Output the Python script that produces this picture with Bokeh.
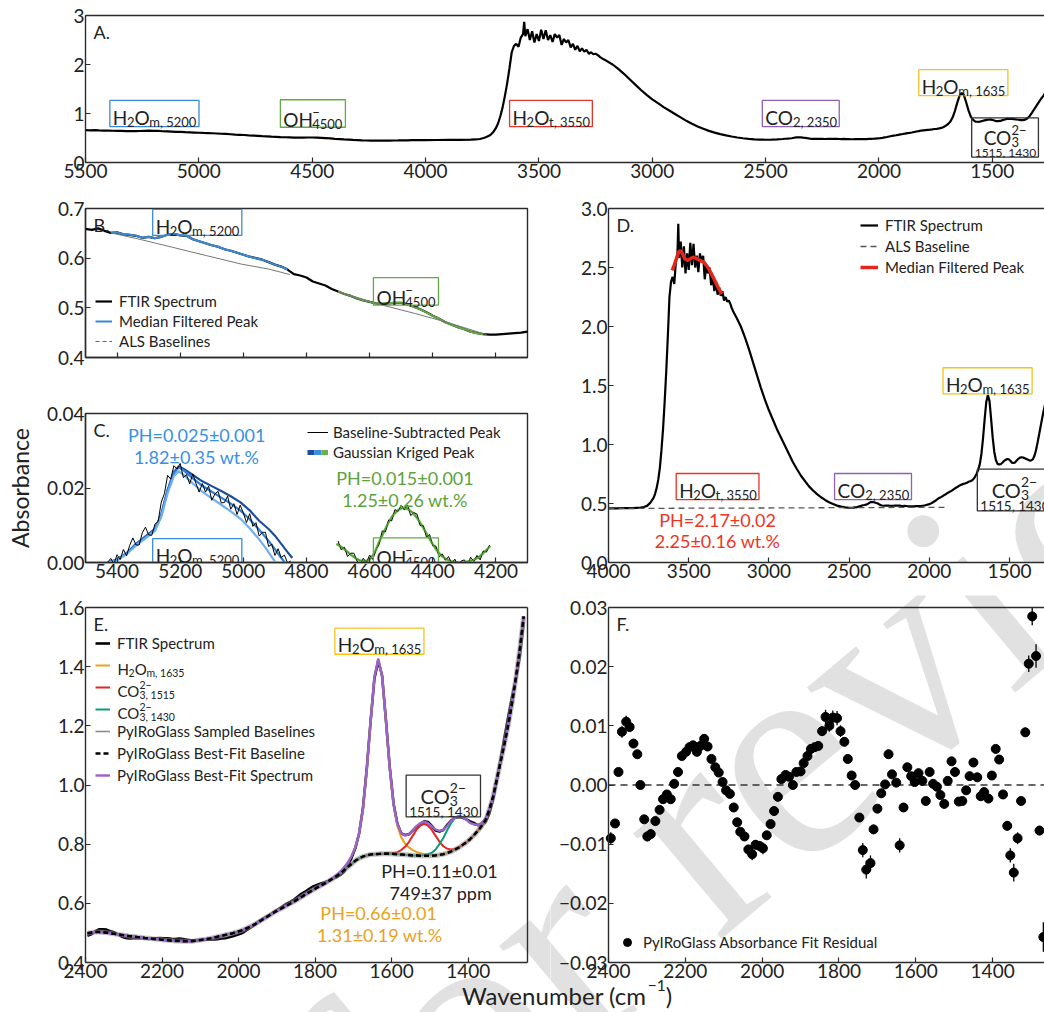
import numpy as np
from bokeh.plotting import figure
from bokeh.layouts import column, row
from bokeh.models import (Range1d, FixedTicker, Label, Legend, LegendItem, LinearAxis)
from bokeh.embed import file_html
from bokeh.resources import INLINE

FONT = "Lato"
INK = "#222222"
AX = "#2b2b2b"
NAN2 = [np.nan, np.nan]

# ---------------- FTIR spectrum (absorbance vs wavenumber, cm-1) ----------------
wn_nir = np.arange(5500, 4099, -20)
abs_nir = [
    0.659, 0.657, 0.660, 0.655, 0.651, 0.652, 0.648, 0.647, 0.645, 0.641,
    0.643, 0.640, 0.643, 0.647, 0.649, 0.646, 0.645, 0.638, 0.634, 0.630,
    0.626, 0.623, 0.618, 0.615, 0.611, 0.607, 0.603, 0.600, 0.597, 0.592,
    0.587, 0.583, 0.577, 0.568, 0.565, 0.561, 0.553, 0.549, 0.545, 0.538,
    0.533, 0.528, 0.524, 0.519, 0.515, 0.512, 0.509, 0.508, 0.509, 0.510,
    0.510, 0.507, 0.502, 0.497, 0.491, 0.484, 0.478, 0.471, 0.466, 0.461,
    0.457, 0.452, 0.449, 0.447, 0.446, 0.446, 0.447, 0.448, 0.449, 0.450,
    0.452,
]
wn_rise = [4080, 4060, 4040, 4020, 4000, 3950, 3900, 3850, 3800, 3780, 3760, 3740,
           3720, 3710, 3700, 3690, 3680, 3670, 3660, 3650, 3640, 3630, 3620]
abs_rise = [0.453, 0.455, 0.456, 0.457, 0.458, 0.459, 0.460, 0.461, 0.465, 0.470, 0.480, 0.505,
            0.545, 0.580, 0.630, 0.700, 0.800, 0.950, 1.130, 1.360, 1.620, 1.920, 2.250]
wn_oh = [3610, 3600, 3590, 3580, 3570, 3565, 3560, 3550, 3540, 3530,
         3520, 3510, 3500, 3490, 3480, 3470, 3460, 3450, 3440, 3430,
         3420, 3410, 3400, 3390, 3380, 3370, 3360, 3350, 3340, 3330,
         3320, 3310, 3300, 3290, 3280, 3270, 3260, 3250, 3240, 3230, 3220]
abs_oh = [2.38, 2.42, 2.36, 2.55, 2.62, 2.87, 2.58, 2.72, 2.50, 2.68,
          2.45, 2.62, 2.48, 2.71, 2.52, 2.70, 2.50, 2.60, 2.46, 2.62,
          2.55, 2.60, 2.40, 2.52, 2.45, 2.50, 2.35, 2.42, 2.30, 2.38,
          2.27, 2.33, 2.26, 2.30, 2.22, 2.25, 2.21, 2.22, 2.19, 2.15, 2.12]
wn_mid = [3200, 3175, 3150, 3125, 3100, 3075, 3050, 3025, 3000, 2975,
          2950, 2925, 2900, 2875, 2850, 2825, 2800, 2775, 2750, 2725,
          2700, 2675, 2650, 2625, 2600, 2575, 2550, 2525, 2500, 2475,
          2450, 2425, 2415]
abs_mid = [2.07, 2.00, 1.91, 1.81, 1.70, 1.59, 1.48, 1.38, 1.29, 1.21,
           1.13, 1.06, 0.99, 0.92, 0.85, 0.79, 0.735, 0.69, 0.645, 0.61,
           0.58, 0.553, 0.53, 0.51, 0.495, 0.482, 0.473, 0.467, 0.464, 0.465,
           0.470, 0.480, 0.485]
wn_mir = np.arange(2405, 1234, -10)
abs_mir = [
    0.487, 0.490, 0.495, 0.505, 0.512, 0.512, 0.511, 0.506, 0.502, 0.495,
    0.487, 0.483, 0.481, 0.482, 0.482, 0.483, 0.481, 0.480, 0.481, 0.482,
    0.483, 0.482, 0.482, 0.480, 0.479, 0.481, 0.479, 0.477, 0.475, 0.475,
    0.476, 0.476, 0.478, 0.477, 0.478, 0.479, 0.481, 0.482, 0.485, 0.489,
    0.493, 0.497, 0.504, 0.513, 0.521, 0.531, 0.541, 0.549, 0.556, 0.564,
    0.573, 0.581, 0.590, 0.598, 0.605, 0.613, 0.623, 0.633, 0.640, 0.649,
    0.657, 0.662, 0.667, 0.671, 0.676, 0.684, 0.688, 0.695, 0.706, 0.726,
    0.753, 0.786, 0.836, 0.922, 1.055, 1.216, 1.360, 1.420, 1.370, 1.220,
    1.060, 0.937, 0.869, 0.836, 0.831, 0.833, 0.846, 0.859, 0.869, 0.877,
    0.875, 0.862, 0.846, 0.843, 0.848, 0.865, 0.879, 0.889, 0.892, 0.890,
    0.884, 0.877, 0.872, 0.864, 0.865, 0.874, 0.903, 0.951, 1.018, 1.089,
    1.162, 1.233, 1.301, 1.360, 1.436, 1.550, 1.680, 1.820,
]

# ---------------- ALS baselines of the near-IR peaks ----------------
als_5200_wn = [5420, 5335, 5225, 5116, 5006, 4919, 4853]
als_5200 = [0.651, 0.639, 0.622, 0.605, 0.588, 0.578, 0.567]
als_4500_wn = [4700, 4569, 4459, 4350, 4230]
als_4500 = [0.532, 0.507, 0.489, 0.470, 0.446]

# ---------------- baseline-subtracted peaks ----------------
sub_5200_wn = np.arange(5430, 4849, -10)
sub_5200 = [
    0.0000, 0.0011, -0.0004, 0.0021, 0.0008, 0.0035, 0.0018, 0.0046, 0.0066, 0.0047,
    0.0047, 0.0080, 0.0095, 0.0074, 0.0073, 0.0103, 0.0110, 0.0162, 0.0185, 0.0234,
    0.0224, 0.0260, 0.0251, 0.0266, 0.0228, 0.0236, 0.0211, 0.0238, 0.0212, 0.0189,
    0.0212, 0.0189, 0.0205, 0.0167, 0.0184, 0.0191, 0.0160, 0.0161, 0.0178, 0.0143,
    0.0158, 0.0129, 0.0154, 0.0133, 0.0107, 0.0131, 0.0097, 0.0107, 0.0071, 0.0081,
    0.0081, 0.0043, 0.0049, 0.0019, 0.0037, 0.0013, 0.0020, -0.0001, 0.0004,
]
sub_4500_wn = np.arange(4700, 4219, -10)
sub_4500 = [
    0.0058, 0.0034, 0.0041, 0.0016, 0.0025, 0.0025, 0.0004, -0.0005, 0.0011, 0.0000,
    0.0020, 0.0008, 0.0034, 0.0049, 0.0085, 0.0082, 0.0114, 0.0112, 0.0142, 0.0137,
    0.0154, 0.0141, 0.0154, 0.0126, 0.0134, 0.0130, 0.0099, 0.0099, 0.0068, 0.0075,
    0.0045, 0.0044, 0.0015, 0.0023, 0.0006, 0.0016, -0.0003, 0.0009, -0.0010, 0.0004,
    0.0007, -0.0006, 0.0014, 0.0003, 0.0019, 0.0007, 0.0031, 0.0028, 0.0047,
]
# Gaussian-process (kriged) peaks: upper, central and lower estimates
krig_hi_wn = [5430, 5400, 5370, 5340, 5310, 5280, 5260, 5240, 5220, 5205, 5190, 5160,
              5130, 5100, 5070, 5040, 5010, 4980, 4950, 4920, 4900, 4880, 4860, 4845]
krig_hi = [0.0000, 0.0008, 0.0025, 0.0050, 0.0070, 0.0090, 0.0130, 0.0195, 0.0243, 0.0258,
           0.0252, 0.0235, 0.0218, 0.0205, 0.0192, 0.0178, 0.0162, 0.0140, 0.0112, 0.0090,
           0.0072, 0.0050, 0.0028, 0.0012]
krig_mid_wn = [5430, 5400, 5370, 5340, 5310, 5280, 5260, 5240, 5220, 5205, 5190, 5160,
               5130, 5100, 5070, 5040, 5010, 4980, 4950, 4920, 4900, 4880, 4870]
krig_mid = [0.0000, 0.0008, 0.0024, 0.0048, 0.0068, 0.0088, 0.0127, 0.0192, 0.0240, 0.0255,
            0.0248, 0.0226, 0.0206, 0.0190, 0.0174, 0.0158, 0.0140, 0.0116, 0.0088, 0.0058,
            0.0036, 0.0012, 0.0002]
krig_lo_wn = [5430, 5400, 5370, 5340, 5310, 5280, 5260, 5240, 5220, 5205, 5190, 5160,
              5130, 5100, 5070, 5040, 5010, 4980, 4950, 4930, 4910, 4900]
krig_lo = [0.0000, 0.0006, 0.0022, 0.0045, 0.0065, 0.0085, 0.0122, 0.0186, 0.0232, 0.0245,
           0.0236, 0.0212, 0.0190, 0.0172, 0.0155, 0.0137, 0.0118, 0.0092, 0.0062, 0.0040,
           0.0015, 0.0003]
krig_oh_wn = [4705, 4690, 4675, 4660, 4645, 4630, 4615, 4600, 4585, 4570, 4555, 4540,
              4525, 4510, 4495, 4480, 4465, 4450, 4435, 4420, 4405, 4390, 4375, 4360,
              4345, 4330, 4315, 4300, 4285, 4270, 4255, 4240, 4225, 4218]
krig_oh = [0.0050, 0.0042, 0.0032, 0.0021, 0.0012, 0.0005, 0.0003, 0.0008, 0.0025, 0.0055,
           0.0082, 0.0108, 0.0128, 0.0141, 0.0147, 0.0144, 0.0135, 0.0120, 0.0100, 0.0078,
           0.0056, 0.0036, 0.0020, 0.0010, 0.0004, 0.0001, 0.0000, 0.0001, 0.0003, 0.0007,
           0.0014, 0.0025, 0.0038, 0.0045]

# ---------------- mid-IR baseline and median-filtered H2Ot peak ----------------
als_3550_wn = [4000, 3500, 3000, 2500, 1900]
als_3550 = [0.458, 0.460, 0.462, 0.465, 0.468]
med_3550_wn = [3603, 3590, 3575, 3563, 3551, 3540, 3525, 3509, 3490, 3468,
               3450, 3430, 3406, 3380, 3360, 3343, 3320, 3300, 3291]
med_3550 = [2.475, 2.52, 2.58, 2.63, 2.644, 2.62, 2.575, 2.56, 2.575, 2.587,
            2.575, 2.56, 2.545, 2.50, 2.45, 2.404, 2.34, 2.29, 2.277]

# ---------------- PyIRoGlass fit on the 2405-1235 cm-1 grid ----------------
fit_baseline = [
    0.496, 0.499, 0.501, 0.503, 0.503, 0.502, 0.501, 0.499, 0.497, 0.495,
    0.493, 0.491, 0.489, 0.488, 0.486, 0.485, 0.483, 0.482, 0.480, 0.479,
    0.478, 0.476, 0.475, 0.474, 0.473, 0.473, 0.472, 0.472, 0.472, 0.473,
    0.475, 0.477, 0.479, 0.481, 0.484, 0.487, 0.490, 0.493, 0.496, 0.499,
    0.503, 0.507, 0.512, 0.518, 0.524, 0.531, 0.539, 0.547, 0.555, 0.563,
    0.571, 0.578, 0.585, 0.592, 0.599, 0.606, 0.614, 0.622, 0.630, 0.638,
    0.646, 0.653, 0.660, 0.667, 0.675, 0.683, 0.691, 0.701, 0.711, 0.722,
    0.733, 0.744, 0.752, 0.758, 0.762, 0.765, 0.766, 0.767, 0.768, 0.768,
    0.768, 0.767, 0.766, 0.765, 0.764, 0.763, 0.762, 0.762, 0.761, 0.761,
    0.761, 0.761, 0.762, 0.764, 0.766, 0.770, 0.775, 0.781, 0.788, 0.797,
    0.806, 0.817, 0.830, 0.845, 0.861, 0.880, 0.915, 0.960, 1.020, 1.080,
    1.140, 1.205, 1.280, 1.365, 1.460, 1.570, 1.690, 1.820,
]
peak_1635_wn = np.arange(1755, 1484, -10)
peak_1635 = [0.002, 0.003, 0.005, 0.009, 0.015, 0.026, 0.045, 0.085, 0.160, 0.290,
             0.450, 0.600, 0.660, 0.600, 0.450, 0.290, 0.165, 0.095, 0.058, 0.038,
             0.026, 0.018, 0.012, 0.008, 0.005, 0.003, 0.002, 0.001]
peak_1515_wn = np.arange(1605, 1424, -10)
peak_1515 = [0.001, 0.003, 0.007, 0.015, 0.027, 0.044, 0.066, 0.087, 0.102, 0.108,
             0.102, 0.087, 0.066, 0.044, 0.027, 0.015, 0.007, 0.003, 0.001]
peak_1430_wn = np.arange(1515, 1344, -10)
peak_1430 = [0.002, 0.005, 0.010, 0.020, 0.037, 0.055, 0.077, 0.095, 0.106, 0.106,
             0.095, 0.077, 0.055, 0.037, 0.020, 0.010, 0.005, 0.002]

# ---------------- fit residual ----------------
res_wn = [
    2394, 2383, 2374, 2365, 2354, 2345, 2335, 2325, 2317, 2307,
    2299, 2290, 2278, 2267, 2258, 2248, 2238, 2229, 2219, 2209,
    2198, 2189, 2180, 2170, 2161, 2151, 2142, 2132, 2122, 2113,
    2103, 2094, 2084, 2074, 2065, 2057, 2046, 2036, 2026, 2017,
    2007, 1998, 1988, 1978, 1969, 1959, 1950, 1939, 1930, 1920,
    1911, 1900, 1892, 1882, 1873, 1863, 1854, 1844, 1835, 1825,
    1816, 1805, 1796, 1786, 1777, 1767, 1758, 1747, 1738, 1729,
    1718, 1710, 1700, 1690, 1680, 1671, 1662, 1651, 1642, 1632,
    1622, 1612, 1603, 1593, 1583, 1574, 1564, 1555, 1545, 1536,
    1526, 1517, 1507, 1498, 1488, 1479, 1469, 1460, 1450, 1440,
    1431, 1422, 1411, 1402, 1392, 1383, 1373, 1362, 1354, 1345,
    1335, 1326, 1315, 1306, 1297, 1287, 1278, 1268,
]
res_val = [
    -0.0090, -0.0065, 0.0022, 0.0090, 0.0107, 0.0098, 0.0070, 0.0052, 0.0000, -0.0058,
    -0.0087, -0.0083, -0.0061, -0.0042, -0.0024, -0.0016, -0.0024, 0.0002, 0.0022, 0.0049,
    0.0056, 0.0064, 0.0067, 0.0056, 0.0066, 0.0078, 0.0065, 0.0044, 0.0030, 0.0021,
    0.0005, -0.0009, -0.0015, -0.0038, -0.0063, -0.0079, -0.0087, -0.0109, -0.0117, -0.0101,
    -0.0103, -0.0107, -0.0085, -0.0066, -0.0044, -0.0020, 0.0010, 0.0017, 0.0014, 0.0000,
    0.0022, 0.0023, 0.0037, 0.0049, 0.0061, 0.0064, 0.0066, 0.0091, 0.0115, 0.0100,
    0.0114, 0.0113, 0.0091, 0.0073, 0.0044, 0.0016, 0.0000, -0.0055, -0.0110, -0.0143,
    -0.0132, -0.0075, -0.0040, -0.0014, 0.0001, 0.0052, 0.0018, 0.0004, -0.0102, -0.0038,
    0.0030, 0.0015, 0.0005, 0.0020, 0.0007, -0.0027, 0.0022, 0.0002, -0.0003, -0.0017,
    -0.0032, 0.0007, 0.0040, 0.0022, -0.0028, -0.0027, -0.0009, 0.0015, 0.0038, 0.0013,
    -0.0019, -0.0012, -0.0023, 0.0016, 0.0061, 0.0043, -0.0016, -0.0069, -0.0119, -0.0148,
    -0.0090, -0.0027, 0.0089, 0.0205, 0.0285, 0.0218, -0.0077, -0.0257,
]
res_err = (
    [0.0010, 0.0006, 0.0006, 0.0010, 0.0010, 0.0008, 0.0006, 0.0006, 0.0006, 0.0006]
    + [0.0008, 0.0008] + [0.0006] * 8
    + [0.0006] * 10
    + [0.0006] * 7 + [0.0008, 0.0010, 0.0008]
    + [0.0008, 0.0010] + [0.0006] * 8
    + [0.0006] * 7 + [0.0008, 0.0012, 0.0010]
    + [0.0012, 0.0012, 0.0010] + [0.0006] * 5 + [0.0012, 0.0015]
    + [0.0013, 0.0008] + [0.0006] * 6 + [0.0012, 0.0006]
    + [0.0006] * 10
    + [0.0006] * 10
    + [0.0006] * 7 + [0.0008, 0.0012, 0.0015]
    + [0.0010, 0.0006, 0.0008, 0.0014, 0.0015, 0.0020, 0.0008, 0.0025]
)

assert len(abs_nir) == len(wn_nir) and len(abs_mir) == len(wn_mir) == len(fit_baseline)
assert len(sub_5200) == len(sub_5200_wn) and len(sub_4500) == len(sub_4500_wn)
assert len(res_wn) == len(res_val) == len(res_err)

spec_wn = np.concatenate([wn_nir, wn_rise, wn_oh, wn_mid, wn_mir]).astype(float)
spec_abs = np.concatenate([abs_nir, abs_rise, abs_oh, abs_mid, abs_mir]).astype(float)

grid_index = {int(w): i for i, w in enumerate(wn_mir)}
base_arr = np.array(fit_baseline, dtype=float)


def component(peak_wn, peak_h):
    out = base_arr.copy()
    for w, h in zip(peak_wn, peak_h):
        out[grid_index[int(w)]] += h
    return out


comp_1635 = component(peak_1635_wn, peak_1635)
comp_1515 = component(peak_1515_wn, peak_1515)
comp_1430 = component(peak_1430_wn, peak_1430)
best_fit = comp_1635 + comp_1515 + comp_1430 - 2 * base_arr

# ---------------- text helpers ----------------
CW = {" ": 0.193, ",": 0.23, ".": 0.23, "−": 0.58, "-": 0.36, "=": 0.58, "±": 0.58,
      "%": 0.78, "H": 0.74, "O": 0.78, "C": 0.68, "P": 0.60, "W": 0.96, "m": 0.85,
      "t": 0.36, "w": 0.77, "p": 0.57, "a": 0.51, "b": 0.56, "c": 0.46, "e": 0.53,
      "n": 0.56, "r": 0.37, "u": 0.56, "v": 0.50, "(": 0.30, ")": 0.30}


def tw(s, size):
    return size * sum(CW.get(ch, 0.58) for ch in s)


def chem(p, x, y, tokens, S, s, color=None, foot=None, fs=None, pad=3.0,
         halign="center", valign="box", ox=0.0, oy=0.0):
    """Chemical label made of normal / subscript / superscript pieces, optionally boxed."""
    pieces = []
    cx = 0.0
    top, bot = 0.72 * S, 0.0
    sub_dy, sup_dy = -0.24 * S, 0.40 * S
    for tok in tokens:
        kind = tok[0]
        if kind == "n":
            pieces.append((cx, 0.0, tok[1], S))
            cx += tw(tok[1], S)
        elif kind == "sub":
            pieces.append((cx, sub_dy, tok[1], s))
            cx += tw(tok[1], s)
            bot = min(bot, sub_dy - (0.14 * s if "," in tok[1] else 0.0))
        elif kind == "sup":
            pieces.append((cx, sup_dy, tok[1], s))
            cx += tw(tok[1], s)
        else:
            pieces.append((cx, sub_dy, tok[1], s))
            pieces.append((cx, sup_dy, tok[2], s))
            cx += max(tw(tok[1], s), tw(tok[2], s))
            bot = min(bot, sub_dy - (0.14 * s if "," in tok[1] else 0.0))
            top = max(top, sup_dy + 0.72 * s)
    w1 = cx
    width = w1
    start = -w1 / 2 if halign == "center" else 0.0
    pieces = [(dx + start, dy, t, z) for dx, dy, t, z in pieces]
    if foot:
        fb = sub_dy - 0.74 * fs - 1.0
        wf = tw(foot, fs)
        pieces.append((-wf / 2, fb, foot, fs))
        bot = fb - 0.14 * fs
        width = max(w1, wf)
    shift = -(top + bot) / 2 if valign == "box" else 0.0
    for dx, dy, t, z in pieces:
        p.add_layout(Label(x=x, y=y, x_offset=dx + ox, y_offset=dy + shift + oy, text=t,
                           text_font=FONT, text_font_size=f"{z:.1f}px", text_color=INK,
                           text_align="left", text_baseline="alphabetic"))
    if color:
        p.rect(x=[x], y=[y], width=width + 2 * pad, height=top - bot + 2 * pad,
               width_units="screen", height_units="screen", fill_color=None,
               line_color=color, line_width=1.3)


def note(p, x, y, text, size, color=INK, align="center", baseline="middle", dx=0, dy=0):
    p.add_layout(Label(x=x, y=y, x_offset=dx, y_offset=dy, text=text, text_font=FONT,
                       text_font_size=f"{size}px", text_color=color, text_align=align,
                       text_baseline=baseline))


def panel_tag(p, x, y, tag):
    note(p, x, y, tag, 18, align="left", baseline="top", dx=8, dy=-5)


# diagonal "for review" stamp, split over the canvases it crosses;
# (ax, ay) is a data anchor whose page position is (px, py)
WM_X, WM_Y, WM_ANGLE, WM_SIZE = 326, 1138, 0.698, 300


def watermark(p, ax, ay, px, py):
    p.add_layout(Label(x=ax, y=ay, x_offset=WM_X - px, y_offset=py - WM_Y,
                       text="for review", angle=WM_ANGLE, text_font="Liberation Serif",
                       text_font_size=f"{WM_SIZE}px", text_color="#e1e1e1",
                       text_align="left", text_baseline="alphabetic", level="underlay"))


# shared x title of the bottom row, centred at page x=567
XT_X, XT_Y = 567, 995


def x_title(p, ax, ay, px, py):
    chem(p, ax, ay, [("n", "Wavenumber (cm"), ("sup", "−1"), ("n", ")")], 24, 15.5,
         halign="center", valign="baseline", ox=XT_X - px, oy=py - XT_Y)


def style_axis(ax, ticks, labels, show=True):
    ax.ticker = FixedTicker(ticks=ticks)
    ax.major_label_overrides = dict(zip(ticks, labels))
    ax.axis_line_color = AX
    ax.axis_line_width = 1.4
    ax.major_tick_line_color = AX
    ax.major_tick_line_width = 1.2
    ax.major_tick_in = 5
    ax.major_tick_out = 0
    ax.minor_tick_line_color = None
    ax.major_label_text_font = FONT
    ax.major_label_text_font_size = "19px"
    ax.major_label_text_color = INK if show else None
    ax.major_label_standoff = 1


def plain_axis(**kw):
    return LinearAxis(ticker=FixedTicker(ticks=[]), major_label_text_color=None,
                      axis_line_color=AX, axis_line_width=1.4, major_tick_out=0,
                      major_tick_in=0, minor_tick_line_color=None, **kw)


def new_fig(w, h, xr, yr, bl, br, bt, bb):
    p = figure(width=w, height=h, x_range=Range1d(*xr), y_range=Range1d(*yr),
               output_backend="svg", toolbar_location=None, title=None,
               min_border_left=bl, min_border_right=br, min_border_top=bt, min_border_bottom=bb)
    p.grid.visible = False
    p.background_fill_color = "white"
    p.border_fill_color = "white"
    return p


def make_fig(w, h, xr, yr, bl, br, bt, bb, xt, xl, yt, yl, boxed=True, xshow=True):
    p = new_fig(w, h, xr, yr, bl, br, bt, bb)
    style_axis(p.xaxis[0], xt, xl, xshow)
    style_axis(p.yaxis[0], yt, yl)
    if boxed:
        p.outline_line_color = AX
        p.outline_line_width = 1.4
    else:
        p.outline_line_color = None
        p.add_layout(plain_axis(), "above")
    return p


def legend(p, items, loc, gw, lh, size="15px", standoff=7, gh=14):
    leg = Legend(items=items, location=loc, glyph_width=gw, glyph_height=gh, label_height=lh,
                 spacing=0, padding=0, margin=0, border_line_color=None,
                 background_fill_alpha=0, label_text_font=FONT, label_text_font_size=size,
                 label_text_color=INK, label_standoff=standoff)
    p.add_layout(leg)


BLUE = "#3a8ad8"
GREEN = "#62ab42"
RED = "#e8322a"
PURPLE = "#9060b8"
YELLOW = "#f4c21c"
ORANGE = "#e9a21a"

H2Om5200 = [("n", "H"), ("sub", "2"), ("n", "O"), ("sub", "m, 5200")]
OH4500 = [("n", "OH"), ("ss", "4500", "−")]
H2Ot3550 = [("n", "H"), ("sub", "2"), ("n", "O"), ("sub", "t, 3550")]
CO2_2350 = [("n", "CO"), ("sub", "2, 2350")]
H2Om1635 = [("n", "H"), ("sub", "2"), ("n", "O"), ("sub", "m, 1635")]
CO3 = [("n", "CO"), ("ss", "3", "2−")]

# ---------------- A: full spectrum ----------------
xa, ya = (5500, 1270), (0, 3)
pA = make_fig(1044, 190, xa, ya, 85, 0, 15, 28,
              [5500, 5000, 4500, 4000, 3500, 3000, 2500, 2000, 1500],
              ["5500", "5000", "4500", "4000", "3500", "3000", "2500", "2000", "1500"],
              [0, 1, 2, 3], ["0", "1", "2", "3"], boxed=False)
pA.line(spec_wn, spec_abs, line_color="black", line_width=2.2)
chem(pA, 5196, 1.0, H2Om5200, 19, 13, BLUE)
chem(pA, 4497, 1.0, OH4500, 19, 13, GREEN)
chem(pA, 3447, 1.0, H2Ot3550, 19, 13, RED)
chem(pA, 2345, 1.0, CO2_2350, 19, 13, PURPLE)
chem(pA, 1628, 1.63, H2Om1635, 19, 13, YELLOW)
chem(pA, 1444, 0.51, CO3, 19, 13, "#333333", foot="1515, 1430", fs=12)
panel_tag(pA, xa[0], ya[1], "A.")

# ---------------- B: near-IR region with baselines ----------------
xb, yb = (5500, 4100), (0.4, 0.7)
nir_ticks = [5400, 5200, 5000, 4800, 4600, 4400, 4200]
nir_labels = [str(t) for t in nir_ticks]
pB = make_fig(550, 195, xb, yb, 85, 23, 18, 28, nir_ticks, nir_labels,
              [0.4, 0.5, 0.6, 0.7], ["0.4", "0.5", "0.6", "0.7"], xshow=False)
rb_spec = pB.line(spec_wn, spec_abs, line_color="black", line_width=2.2)
m5200 = (spec_wn <= 5420) & (spec_wn >= 4850)
m4500 = (spec_wn <= 4700) & (spec_wn >= 4230)
rb_blue = pB.line(spec_wn[m5200], spec_abs[m5200], line_color=BLUE, line_width=2.0)
pB.line(spec_wn[m4500], spec_abs[m4500], line_color=GREEN, line_width=2.0)
pB.line(als_5200_wn, als_5200, line_color="#777777", line_width=1.0)
pB.line(als_4500_wn, als_4500, line_color="#777777", line_width=1.0)
rb_als = pB.line(NAN2, NAN2, line_color="#666666", line_width=1.2, line_dash="4 3")
legend(pB, [LegendItem(label="FTIR Spectrum", renderers=[rb_spec]),
            LegendItem(label="Median Filtered Peak", renderers=[rb_blue]),
            LegendItem(label="ALS Baselines", renderers=[rb_als])],
       (10, 6), 17, 20)
chem(pB, 5146, 0.672, H2Om5200, 19, 13, BLUE)
chem(pB, 4485, 0.533, OH4500, 19, 13, GREEN)
panel_tag(pB, xb[0], yb[1], "B.")

# ---------------- C: baseline-subtracted and kriged peaks ----------------
xc, yc = (5500, 4100), (0, 0.04)
pC = make_fig(550, 210, xc, yc, 85, 23, 28, 33, nir_ticks, nir_labels,
              [0, 0.02, 0.04], ["0.00", "0.02", "0.04"])
pC.yaxis[0].axis_label = "Absorbance"
pC.yaxis[0].axis_label_text_font = FONT
pC.yaxis[0].axis_label_text_font_size = "23px"
pC.yaxis[0].axis_label_text_font_style = "normal"
pC.yaxis[0].axis_label_text_color = INK
pC.yaxis[0].axis_label_standoff = 10
pC.line(krig_hi_wn, krig_hi, line_color="#1d4f9e", line_width=2.2)
pC.line(krig_mid_wn, krig_mid, line_color="#2f80d8", line_width=2.2)
pC.line(krig_lo_wn, krig_lo, line_color="#6fb0ec", line_width=2.2)
pC.line(krig_oh_wn, krig_oh, line_color="#7cc35a", line_width=2.6)
rc_sub = pC.line(sub_5200_wn, sub_5200, line_color="black", line_width=1.0)
pC.line(sub_4500_wn, sub_4500, line_color="black", line_width=1.0)
pC.line(krig_oh_wn, krig_oh, line_color="#4f9a32", line_width=1.2)
rk1 = pC.line(NAN2, NAN2, line_color="#1d4f9e", line_width=5, line_dash="7 14", line_dash_offset=0)
rk2 = pC.line(NAN2, NAN2, line_color="#3a8fe0", line_width=5, line_dash="7 14", line_dash_offset=14)
rk3 = pC.line(NAN2, NAN2, line_color="#6ab04c", line_width=5, line_dash="7 14", line_dash_offset=7)
legend(pC, [LegendItem(label="Baseline-Subtracted Peak", renderers=[rc_sub]),
            LegendItem(label="Gaussian Kriged Peak", renderers=[rk1, rk2, rk3])],
       (222, 100), 21, 20, standoff=5)
note(pC, 5148, 0.0341, "PH=0.025±0.001", 18, "#3690e6")
note(pC, 5148, 0.0284, "1.82±0.35 wt.%", 18, "#3690e6")
note(pC, 4488, 0.0226, "PH=0.015±0.001", 18, "#5ca23c")
note(pC, 4488, 0.0168, "1.25±0.26 wt.%", 18, "#5ca23c")
chem(pC, 5146, 0.0029, H2Om5200, 19, 13, BLUE)
chem(pC, 4485, 0.0029, OH4500, 19, 13, GREEN)
panel_tag(pC, xc[0], yc[1], "C.")

# ---------------- D: mid-IR spectrum with the H2Ot peak ----------------
xd, yd = (4000, 1282), (0, 3)
pD = make_fig(494, 405, xd, yd, 58, 0, 18, 33,
              [4000, 3500, 3000, 2500, 2000, 1500],
              ["4000", "3500", "3000", "2500", "2000", "1500"],
              [0, 0.5, 1.0, 1.5, 2.0, 2.5, 3.0],
              ["0.0", "0.5", "1.0", "1.5", "2.0", "2.5", "3.0"], boxed=False)
watermark(pD, xd[0], yd[0], 608, 562)
rd_spec = pD.line(spec_wn, spec_abs, line_color="black", line_width=2.2)
rd_als = pD.line(als_3550_wn, als_3550, line_color="#555555", line_width=1.3, line_dash="6 4")
rd_med = pD.line(med_3550_wn, med_3550, line_color="#e3261b", line_width=3.5)
legend(pD, [LegendItem(label="FTIR Spectrum", renderers=[rd_spec]),
            LegendItem(label="ALS Baseline", renderers=[rd_als]),
            LegendItem(label="Median Filtered Peak", renderers=[rd_med])],
       (252, 285), 18, 21)
chem(pD, 3320, 0.644, H2Ot3550, 19, 13, RED)
chem(pD, 2351, 0.644, CO2_2350, 19, 13, PURPLE)
chem(pD, 1637, 1.54, H2Om1635, 19, 13, YELLOW)
chem(pD, 1469, 0.614, CO3, 20, 14, "#333333", foot="1515, 1430", fs=13.5)
note(pD, 3320, 0.364, "PH=2.17±0.02", 18, "#ec3526")
note(pD, 3320, 0.186, "2.25±0.16 wt.%", 18, "#ec3526")
panel_tag(pD, xd[0], yd[1], "D.")

# ---------------- bottom row ----------------
# The bottom-row frames fill their whole canvases so that tick labels and the shared
# x title can be drawn inside them; every axis is pinned to the data box and bounded.
fit_ticks = [2400, 2200, 2000, 1800, 1600, 1400]
fit_labels = [str(t) for t in fit_ticks]
ROW_H, ROW_TOP, DATA_H = 417, 12, 355
ROW_BOTTOM = ROW_H - ROW_TOP - DATA_H

# ---------------- E: PyIRoGlass fit of the carbonate region ----------------
xe, ye = (2400, 1245), (0.4, 1.6)
e_sx = 442 / (xe[0] - xe[1])
e_sy = DATA_H / (ye[1] - ye[0])
e_xr = (xe[0] + 85 / e_sx, xe[1] - 23 / e_sx)
e_yr = (ye[0] - ROW_BOTTOM / e_sy, ye[1] + ROW_TOP / e_sy)
pE = new_fig(550, ROW_H, e_xr, e_yr, 0, 0, 0, 0)
pE.outline_line_color = None
style_axis(pE.xaxis[0], fit_ticks, fit_labels)
pE.xaxis[0].fixed_location = ye[0]
pE.xaxis[0].bounds = (min(xe), max(xe))
style_axis(pE.yaxis[0], [0.4, 0.6, 0.8, 1.0, 1.2, 1.4, 1.6],
           ["0.4", "0.6", "0.8", "1.0", "1.2", "1.4", "1.6"])
pE.yaxis[0].fixed_location = xe[0]
pE.yaxis[0].bounds = ye
pE.add_layout(plain_axis(bounds=(min(xe), max(xe)), fixed_location=ye[1]), "below")
pE.add_layout(plain_axis(bounds=ye, fixed_location=xe[1]), "right")
watermark(pE, xe[0], ye[1], 85, 607)
x_title(pE, xe[0], ye[1], 85, 607)
me = (wn_mir >= 1255) & (wn_mir <= xe[0])
re_spec = pE.line(wn_mir[me], np.array(abs_mir)[me], line_color="black", line_width=2.6)
re_o = pE.line(wn_mir[me], comp_1635[me], line_color=ORANGE, line_width=2.0)
re_r = pE.line(wn_mir[me], comp_1515[me], line_color="#e4261f", line_width=2.0)
re_g = pE.line(wn_mir[me], comp_1430[me], line_color="#0b9e78", line_width=2.0)
pE.line(wn_mir[me], base_arr[me], line_color="#8c8c8c", line_width=5.0, line_alpha=0.55)
re_grey = pE.line(NAN2, NAN2, line_color="#8c8c8c", line_width=1.6)
re_fit = pE.line(wn_mir[me], best_fit[me], line_color="#9b62cc", line_width=2.4)
re_base = pE.line(wn_mir[me], base_arr[me], line_color="black", line_width=2.6, line_dash="5 3")
legend(pE, [LegendItem(label="FTIR Spectrum", renderers=[re_spec]),
            LegendItem(label=" ", renderers=[re_o]),
            LegendItem(label=" ", renderers=[re_r]),
            LegendItem(label=" ", renderers=[re_g]),
            LegendItem(label="PyIRoGlass Sampled Baselines", renderers=[re_grey]),
            LegendItem(label="PyIRoGlass Best-Fit Baseline", renderers=[re_base]),
            LegendItem(label="PyIRoGlass Best-Fit Spectrum", renderers=[re_fit])],
       (95, 226), 15, 22)
leg_rows = [665, 687, 709]
leg_tokens = [H2Om1635,
              [("n", "CO"), ("ss", "3, 1515", "2−")],
              [("n", "CO"), ("ss", "3, 1430", "2−")]]
for yrow, toks in zip(leg_rows, leg_tokens):
    chem(pE, xe[0], ye[1], toks, 15, 10.5, halign="left", valign="baseline",
         ox=32, oy=-(yrow - 607 + 3.5))
chem(pE, 1632, 1.486, H2Om1635, 19, 13, YELLOW)
chem(pE, 1465, 0.963, CO3, 20, 14, "#333333", foot="1515, 1430", fs=13.5)
note(pE, 1475, 0.709, "PH=0.11±0.01", 18)
note(pE, 1472, 0.636, "749±37 ppm", 18)
note(pE, 1634, 0.567, "PH=0.66±0.01", 18, ORANGE)
note(pE, 1631, 0.492, "1.31±0.19 wt.%", 18, ORANGE)
panel_tag(pE, xe[0], ye[1], "E.")

# ---------------- F: fit residual ----------------
xf, yf = (2400, 1265), (-0.03, 0.03)
f_sx = 436 / (xf[0] - xf[1])
f_sy = DATA_H / (yf[1] - yf[0])
f_xr = (xf[0] + 58 / f_sx, xf[1])
f_yr = (yf[0] - ROW_BOTTOM / f_sy, yf[1] + ROW_TOP / f_sy)
pF = new_fig(494, ROW_H, f_xr, f_yr, 0, 0, 0, 0)
pF.outline_line_color = None
style_axis(pF.xaxis[0], fit_ticks, fit_labels)
pF.xaxis[0].fixed_location = yf[0]
pF.xaxis[0].bounds = (min(xf), max(xf))
style_axis(pF.yaxis[0], [-0.03, -0.02, -0.01, 0, 0.01, 0.02, 0.03],
           ["−0.03", "−0.02", "−0.01", "0.00", "0.01", "0.02", "0.03"])
pF.yaxis[0].fixed_location = xf[0]
pF.yaxis[0].bounds = yf
pF.add_layout(plain_axis(bounds=(min(xf), max(xf)), fixed_location=yf[1]), "below")
watermark(pF, xf[0], yf[1], 608, 607)
x_title(pF, xf[0], yf[1], 608, 607)
pF.line(list(xf), [0, 0], line_color="#333333", line_width=1.3, line_dash="7 5")
rv = np.array(res_val)
re = np.array(res_err)
pF.segment(x0=res_wn, y0=rv - re, x1=res_wn, y1=rv + re, line_color="black", line_width=1.3)
rf = pF.scatter(res_wn, res_val, size=9, fill_color="black", line_color="black")
legend(pF, [LegendItem(label="PyIRoGlass Absorbance Fit Residual", renderers=[rf])],
       (67, 60), 20, 21, standoff=6, gh=20)
panel_tag(pF, xf[0], yf[1], "F.")

page = column(pA, row(column(pB, pC), pD), row(pE, pF))
open("out.html", "w").write(file_html(page, INLINE))
